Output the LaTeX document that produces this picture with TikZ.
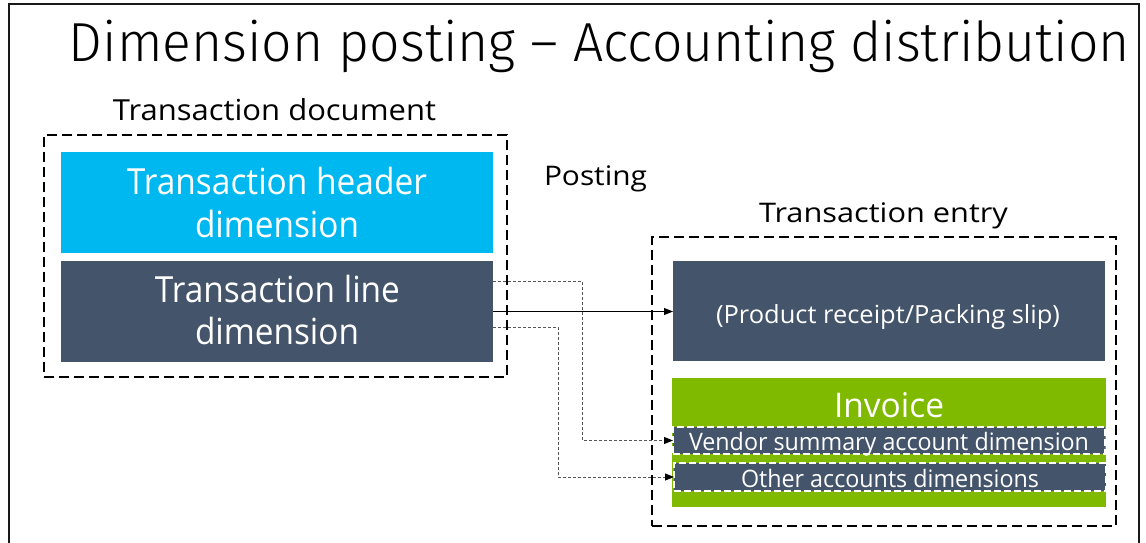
\documentclass[tikz,border=0pt]{standalone}
\usepackage{fontspec}
\setmainfont{Open Sans}
\newfontfamily\lightfont{Fira Sans Light}
\usetikzlibrary{arrows.meta,calc}
\definecolor{cyanbox}{HTML}{00B8F0}
\definecolor{darkbox}{HTML}{44546A}
\definecolor{greenbox}{HTML}{7FBA00}
\definecolor{connector}{HTML}{555555}
\newcommand{\fw}[2]{\resizebox{#1pt}{\height}{#2}}
\newcommand{\fsz}[1]{\fontsize{#1}{#1}\selectfont}
\tikzset{
  box/.style={rectangle, inner sep=0pt, outer sep=0pt},
  container/.style={box, draw=black, line width=2pt, dash pattern=on 10pt off 5pt},
  lbl/.style={inner sep=0pt, outer sep=0pt, anchor=base},
  wlbl/.style={lbl, text=white},
  subbox/.style={box, fill=darkbox, draw=white, line width=1.5pt, dash pattern=on 7pt off 3pt},
  tip/.style={-{Triangle[length=9pt,width=7pt,color=black,fill=black]}},
  dotline/.style={tip, draw=connector, line width=1pt, dash pattern=on 3pt off 2pt},
}
\begin{document}
\begin{tikzpicture}[x=1pt,y=-1pt]
\useasboundingbox (0,0) rectangle (1146,543);
% frame
\draw[line width=2pt, black!90] (9,543) -- (9,4) -- (1139,4) -- (1139,543);
% title
\node[lbl] (title) at (599.5,62) {\lightfont\fontsize{55}{55}\selectfont\fw{1061}{Dimension posting – Accounting distribution}};
% left side
\node[lbl] (tdoc) at (274.5,121) {\fsz{29}\fw{323}{Transaction document}};
\node[container, minimum width=463pt, minimum height=242pt] (ldoc) at (275.5,256) {};
\node[box, fill=cyanbox, minimum width=432pt, minimum height=101pt] (hd) at (277,202.5) {};
\node[box, fill=darkbox, minimum width=432pt, minimum height=101pt] (lb) at (277,311.5) {};
\node[wlbl] (hd1) at (277,194) {\fsz{36}\fw{300}{Transaction header}};
\node[wlbl] (hd2) at (277,237) {\fsz{36}\fw{164}{dimension}};
\node[wlbl] (lb1) at (277.5,302) {\fsz{36}\fw{245}{Transaction line}};
\node[wlbl] (lb2) at (277,344) {\fsz{36}\fw{164}{dimension}};
% middle
\node[lbl] (post) at (595.5,185) {\fsz{27}\fw{103}{Posting}};
% right side
\node[lbl] (tent) at (883.5,222) {\fsz{27}\fw{249}{Transaction entry}};
\node[container, minimum width=464pt, minimum height=289pt] (rent) at (884,381.5) {};
\node[box, fill=darkbox, minimum width=432pt, minimum height=100pt] (pr) at (889,311) {};
\node[wlbl] (prt) at (888,323) {\fsz{25}\fw{344}{(Product receipt/Packing slip)}};
\node[box, fill=greenbox, minimum width=434pt, minimum height=129pt] (inv) at (889,442.5) {};
\node[wlbl] (invt) at (889,417) {\fsz{34}\fw{110}{Invoice}};
\node[subbox, minimum width=432pt, minimum height=27pt] (vs) at (889,440.5) {};
\node[wlbl] (vst) at (889,450) {\fsz{24}\fw{400}{Vendor summary account dimension}};
\node[subbox, minimum width=432pt, minimum height=28pt] (oa) at (890,477) {};
\node[wlbl] (oat) at (890,487) {\fsz{24}\fw{298}{Other accounts dimensions}};
% connectors
\draw[tip, line width=1pt] (lb.east) -- (lb.east -| pr.west);
\draw[dotline] ([yshift=30.5pt]lb.east) -- ++(89,0) |- (vs.west);
\draw[dotline] ([yshift=-15.5pt]lb.east) -- ++(65,0) |- (oa.west);
\end{tikzpicture}
\end{document}
